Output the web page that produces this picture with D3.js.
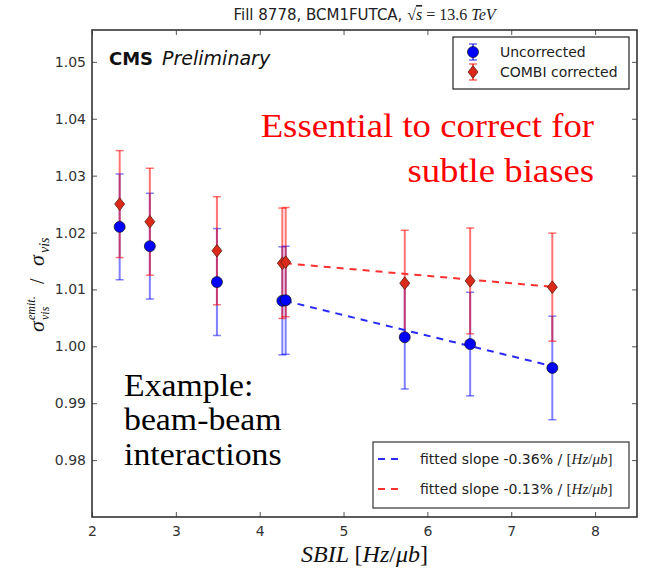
<!DOCTYPE html>
<html>
<head>
<meta charset="utf-8">
<script src="https://cdn.jsdelivr.net/npm/d3@7"></script>
<style>
	body { margin: 0; background: #fff; }
	svg { display: block; }
</style>
</head>
<body>
<div id="chart"></div>
<script>
// values
const sbil = [2.33, 2.69, 3.49, 4.27, 4.31, 5.73, 6.51, 7.49];
const uncorrected = [1.0210, 1.0176, 1.0113, 1.0080, 1.0081, 1.0016, 1.0004, 0.9962];
const uncorrectedErr = [0.0093, 0.0093, 0.0094, 0.0095, 0.0095, 0.0091, 0.0091, 0.0091];
const combi = [1.0250, 1.0219, 1.0168, 1.0146, 1.0148, 1.0111, 1.0115, 1.0104];
const combiErr = [0.0094, 0.0094, 0.0095, 0.0097, 0.0096, 0.0093, 0.0093, 0.0095];

// linear fits: value = intercept + slope * sbil, drawn over fitRange
const fitRange = [4.3, 7.5];
const fitSlopes = [-0.0036, -0.0013];
const fitIntercepts = [1.02348, 1.02019];
const fitLabels = ["fitted slope -0.36% / ", "fitted slope -0.13% / "];

const xTicks = [2, 3, 4, 5, 6, 7, 8];
const yTicks = [0.98, 0.99, 1.00, 1.01, 1.02, 1.03, 1.04, 1.05];
const seriesNames = ["Uncorrected", "COMBI corrected"];

const width = 648, height = 574;
const margin = {top: 30, right: 11, bottom: 57, left: 92};
const sans = "'DejaVu Sans', sans-serif";
const serif = "'Liberation Serif', 'DejaVu Serif', serif";

const BLUE = "#0000ff", RED = "#ff0000";

const x = d3.scaleLinear().domain([2, 8.5]).range([margin.left, width - margin.right]);
const y = d3.scaleLinear().domain([0.97, 1.0556]).range([height - margin.bottom, margin.top]);

const svg = d3.select("#chart")
	.append("svg")
	.attr("width", width)
	.attr("height", height);

// axes, ticks pointing inward on all four sides
const styleAxis = g => {
	g.select(".domain").remove();
	g.selectAll(".tick line").attr("stroke", "#555").attr("stroke-width", 1);
	g.selectAll(".tick text").attr("fill", "#333").style("font-family", sans).style("font-size", "14px");
};

svg.append("g")
	.attr("transform", `translate(0,${height - margin.bottom})`)
	.call(d3.axisBottom(x).tickValues(xTicks).tickSizeInner(-5).tickSizeOuter(0).tickPadding(9).tickFormat(d3.format("d")))
	.call(styleAxis);

svg.append("g")
	.attr("transform", `translate(${margin.left},0)`)
	.call(d3.axisLeft(y).tickValues(yTicks).tickSizeInner(-5).tickSizeOuter(0).tickPadding(6).tickFormat(d3.format(".2f")))
	.call(styleAxis);

svg.append("g")
	.attr("transform", `translate(0,${margin.top})`)
	.call(d3.axisTop(x).tickValues(xTicks).tickSizeInner(-5).tickSizeOuter(0).tickFormat(""))
	.call(styleAxis);

svg.append("g")
	.attr("transform", `translate(${width - margin.right},0)`)
	.call(d3.axisRight(y).tickValues(yTicks).tickSizeInner(-5).tickSizeOuter(0).tickFormat(""))
	.call(styleAxis);

svg.append("rect")
	.attr("x", margin.left)
	.attr("y", margin.top)
	.attr("width", width - margin.left - margin.right)
	.attr("height", height - margin.top - margin.bottom)
	.attr("fill", "none")
	.attr("stroke", "#333")
	.attr("stroke-width", 1.6);

// marker shapes
const diamond = (w, h) => `M0,${-h}L${w},0L0,${h}L${-w},0Z`;
const drawMarker = (g, kind) => {
	if (kind === "circle") {
		g.append("circle").attr("r", 5.5).attr("fill", BLUE).attr("stroke", "#111").attr("stroke-width", 0.7);
	} else {
		g.append("path").attr("d", diamond(5, 6.3)).attr("fill", "#dc2a1a").attr("stroke", "#5a1a10").attr("stroke-width", 0.8);
	}
};

// error bars first (blue then red), markers on top
function drawBars(vals, errs, color, alpha) {
	const g = svg.append("g").attr("stroke", color).attr("stroke-opacity", alpha).attr("stroke-width", 2);
	const bars = g.selectAll("g").data(vals).enter().append("g");
	bars.append("line")
		.attr("x1", (d, i) => x(sbil[i])).attr("x2", (d, i) => x(sbil[i]))
		.attr("y1", (d, i) => y(d - errs[i])).attr("y2", (d, i) => y(d + errs[i]));
	[-1, 1].forEach(s => {
		bars.append("line")
			.attr("x1", (d, i) => x(sbil[i]) - 4).attr("x2", (d, i) => x(sbil[i]) + 4)
			.attr("y1", (d, i) => y(d + s * errs[i])).attr("y2", (d, i) => y(d + s * errs[i]))
			.attr("stroke-width", 1.5);
	});
}

drawBars(uncorrected, uncorrectedErr, BLUE, 0.5);
drawBars(combi, combiErr, RED, 0.55);

// fitted lines
const fitColors = ["#2a2aff", "#ff3030"];
fitSlopes.forEach((slope, k) => {
	svg.append("path")
		.datum(fitRange)
		.attr("fill", "none")
		.attr("stroke", fitColors[k])
		.attr("stroke-width", 2)
		.attr("stroke-dasharray", "7,6")
		.attr("d", d3.line().x(d => x(d)).y(d => y(fitIntercepts[k] + slope * d)));
});

[[uncorrected, "circle"], [combi, "diamond"]].forEach(([vals, kind]) => {
	vals.forEach((v, i) => {
		const g = svg.append("g").attr("transform", `translate(${x(sbil[i])},${y(v)})`);
		drawMarker(g, kind);
	});
});

// title
const title = svg.append("text")
	.attr("x", (margin.left + width - margin.right) / 2)
	.attr("y", 20)
	.attr("text-anchor", "middle")
	.attr("fill", "#222")
	.style("font-family", sans)
	.style("font-size", "15px");
title.append("tspan").text("Fill 8778, BCM1FUTCA, ");
title.append("tspan").style("font-family", serif).style("font-size", "16px").text("√");
title.append("tspan").style("font-family", serif).style("font-size", "16px").style("font-style", "italic").style("text-decoration", "overline").text("s");
title.append("tspan").style("font-family", serif).style("font-size", "16px").text(" = 13.6 ");
title.append("tspan").style("font-family", serif).style("font-size", "16px").style("font-style", "italic").text("TeV");

// CMS Preliminary
const cms = svg.append("text")
	.attr("x", 109)
	.attr("y", 65)
	.style("font-family", sans)
	.style("font-size", "18px")
	.attr("fill", "#111");
cms.append("tspan").style("font-weight", "bold").text("CMS");
cms.append("tspan").attr("dx", 9).style("font-style", "italic").style("font-size", "19px").text("Preliminary");

// legend: series
const leg1 = svg.append("g");
leg1.append("rect")
	.attr("x", 453).attr("y", 37).attr("width", 176).attr("height", 52)
	.attr("fill", "#fff").attr("stroke", "#222").attr("stroke-width", 1.2);
[[BLUE, "circle"], [RED, "diamond"]].forEach(([color, kind], k) => {
	const cy = 52 + k * 20;
	const g = leg1.append("g").attr("transform", `translate(473,${cy})`);
	g.append("line").attr("y1", -8).attr("y2", 8).attr("stroke", color).attr("stroke-opacity", 0.6).attr("stroke-width", 2);
	[-8, 8].forEach(cyc => g.append("line").attr("x1", -4).attr("x2", 4).attr("y1", cyc).attr("y2", cyc)
		.attr("stroke", color).attr("stroke-opacity", 0.6).attr("stroke-width", 1.5));
	drawMarker(g, kind);
	leg1.append("text")
		.attr("x", 500).attr("y", cy + 5)
		.attr("fill", "#222")
		.style("font-family", sans).style("font-size", "14px")
		.text(seriesNames[k]);
});

// legend: fits
const leg2 = svg.append("g");
leg2.append("rect")
	.attr("x", 373).attr("y", 442).attr("width", 256).attr("height", 66)
	.attr("fill", "#fff").attr("stroke", "#333").attr("stroke-width", 1.2);
fitLabels.forEach((label, k) => {
	const cy = 459 + k * 30;
	leg2.append("line")
		.attr("x1", 378).attr("x2", 404).attr("y1", cy).attr("y2", cy)
		.attr("stroke", fitColors[k]).attr("stroke-width", 2).attr("stroke-dasharray", "7,6");
	const t = leg2.append("text")
		.attr("x", 420).attr("y", cy + 5)
		.attr("fill", "#222")
		.style("font-family", sans).style("font-size", "14px");
	t.append("tspan").text(label);
	const math = (s, italic) => t.append("tspan")
		.style("font-family", serif).style("font-size", "15px")
		.style("font-style", italic ? "italic" : "normal").text(s);
	math("[", false); math("Hz", true); math("/", false); math("μb", true); math("]", false);
});

// x axis label
const xl = svg.append("text")
	.attr("x", (margin.left + width - margin.right) / 2)
	.attr("y", 562)
	.attr("text-anchor", "middle")
	.attr("fill", "#111")
	.style("font-family", serif)
	.style("font-size", "24px");
xl.append("tspan").style("font-style", "italic").text("SBIL ");
xl.append("tspan").text("[");
xl.append("tspan").style("font-style", "italic").text("Hz");
xl.append("tspan").text("/");
xl.append("tspan").style("font-style", "italic").text("μb");
xl.append("tspan").text("]");

// y axis label
const yl = svg.append("g")
	.attr("transform", "translate(44,274) rotate(-90)")
	.attr("fill", "#111")
	.style("font-family", serif)
	.style("font-style", "italic");
yl.append("text").attr("x", -58).attr("y", 0).style("font-size", "22px").text("σ");
yl.append("text").attr("x", -46).attr("y", -9).style("font-size", "12px").text("emit.");
yl.append("text").attr("x", -46).attr("y", 5).style("font-size", "12px").text("vis");
yl.append("text").attr("x", -10).attr("y", 0).style("font-size", "20px").style("font-style", "normal").text("/");
yl.append("text").attr("x", 8).attr("y", 0).style("font-size", "22px").text("σ");
yl.append("text").attr("x", 21).attr("y", 5).style("font-size", "14px").text("vis");

// annotations, one text element per block
const note = (lines, xPos, y0, dy, color, anchor, size, stretch) => {
	const t = svg.append("g")
		.attr("transform", `translate(${xPos},${y0}) scale(${stretch},1)`)
		.append("text")
		.attr("text-anchor", anchor)
		.attr("fill", color)
		.style("font-family", serif)
		.style("font-size", size + "px");
	lines.forEach((line, i) => {
		t.append("tspan").attr("x", 0).attr("dy", i === 0 ? 0 : dy).text(line);
	});
};
note(["Essential to correct for", "subtle biases"], 594, 137, 45, "#ff0000", "end", 34, 1.08);
note(["Example:", "beam-beam", "interactions"], 124, 396, 34.5, "#000", "start", 31, 1.09);
</script>
</body>
</html>
